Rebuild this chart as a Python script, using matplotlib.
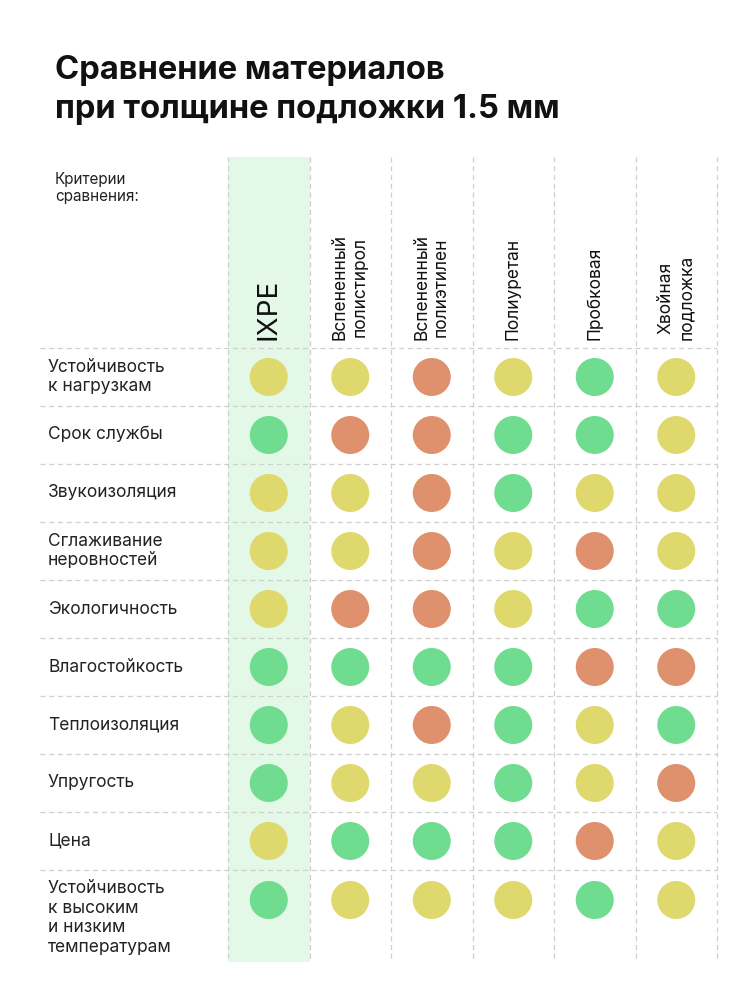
import matplotlib
matplotlib.use("Agg")
import matplotlib.pyplot as plt
from matplotlib.patches import Circle, Rectangle

plt.rcParams["font.family"] = ["Inter", "DejaVu Sans"]

materials = ["IXPE", "Вспененный\nполистирол", "Вспененный\nполиэтилен",
             "Полиуретан", "Пробковая", "Хвойная\nподложка"]
criteria = ["Устойчивость\nк нагрузкам", "Срок службы", "Звукоизоляция",
            "Сглаживание\nнеровностей", "Экологичность", "Влагостойкость",
            "Теплоизоляция", "Упругость", "Цена",
            "Устойчивость\nк высоким\nи низким\nтемпературам"]
# 0 = плохо, 1 = средне, 2 = хорошо
scores = [
    [1, 1, 0, 1, 2, 1],
    [2, 0, 0, 2, 2, 1],
    [1, 1, 0, 2, 1, 1],
    [1, 1, 0, 1, 0, 1],
    [1, 0, 0, 1, 2, 2],
    [2, 2, 2, 2, 0, 0],
    [2, 1, 0, 2, 1, 2],
    [2, 1, 1, 2, 1, 0],
    [1, 2, 2, 2, 0, 1],
    [2, 1, 1, 1, 2, 1],
]
colors = {0: "#df906c", 1: "#dfd86c", 2: "#6fdc90"}

fig = plt.figure(figsize=(7.5, 10), dpi=100)
ax = fig.add_axes([0, 0, 1, 1])
ax.set_xlim(0, 750)
ax.set_ylim(1000, 0)
ax.axis("off")

col_x = [228 + 81.5 * i for i in range(7)]
row_y = [348 + 58 * i for i in range(10)] + [962]
dash = dict(color="#cfcfcf", lw=0.9, ls=(0, (4, 3)))

ax.add_patch(Rectangle((col_x[0], 157), col_x[1] - col_x[0], 962 - 157,
                       facecolor="#e3f8e6", edgecolor="none", zorder=0))
for x in col_x:
    ax.plot([x, x], [157, 962], **dash, zorder=1)
for y in row_y[:-1]:
    ax.plot([40, col_x[-1]], [y, y], **dash, zorder=1)

ax.text(55, 90, "Сравнение материалов\nпри толщине подложки 1.5 мм",
        fontsize=23.5, fontweight="bold", va="center", ha="left",
        linespacing=1.3, color="#111111")
ax.text(55, 188, "Критерии\nсравнения:", fontsize=11, va="center",
        ha="left", color="#222222")

for j, name in enumerate(materials):
    cx = (col_x[j] + col_x[j + 1]) / 2
    ax.text(cx, 340, name, rotation=90, ha="center", va="bottom",
            fontsize=20 if j == 0 else 12.5, color="#111111",
            linespacing=1.2)

for i, crit in enumerate(criteria):
    cy = (row_y[i] + row_y[i + 1]) / 2
    if i == len(criteria) - 1:
        cy = 918
    ax.text(48, cy, crit, ha="left", va="center", fontsize=12.5,
            color="#222222", linespacing=1.2)
    for j in range(len(materials)):
        cx = (col_x[j] + col_x[j + 1]) / 2
        circ_y = cy if i < len(criteria) - 1 else 900
        ax.add_patch(Circle((cx, circ_y), 19, facecolor=colors[scores[i][j]],
                            edgecolor="none", zorder=2))

fig.savefig("out.png", dpi=100, facecolor="white")
